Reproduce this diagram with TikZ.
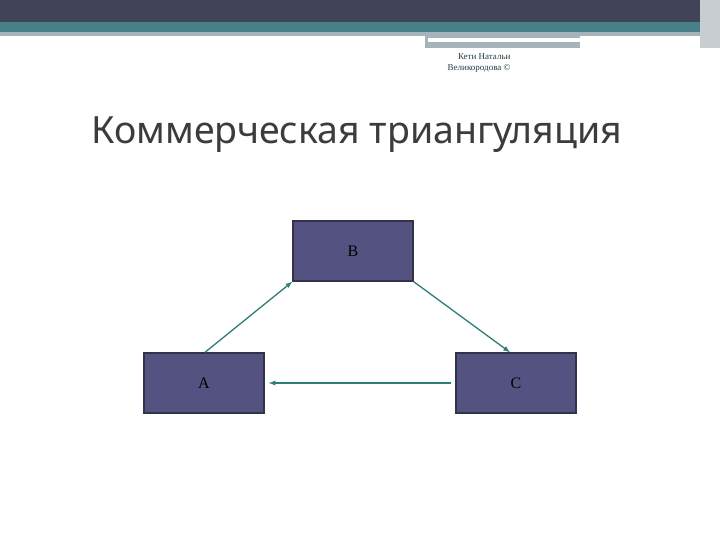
\documentclass[tikz,border=0pt]{standalone}
\usepackage{fontspec}
\setmainfont{Liberation Serif}
\newfontfamily\titlefont{Noto Sans}
\definecolor{band}{RGB}{65,68,87}
\definecolor{teal2}{RGB}{72,128,138}
\definecolor{greyb}{RGB}{165,180,185}
\definecolor{greyc}{RGB}{200,205,210}
\definecolor{boxfill}{RGB}{84,82,128}
\definecolor{boxedge}{RGB}{50,50,75}
\definecolor{arr}{RGB}{46,125,120}
\definecolor{auth}{RGB}{40,60,70}
\definecolor{ttl}{RGB}{60,60,60}
\begin{document}
\begin{tikzpicture}[x=1pt,y=-1pt,
  boxx/.style={draw=boxedge,line width=1.4pt,fill=boxfill,minimum width=120pt,minimum height=60pt,text=black,font=\fontsize{16}{18}\selectfont},
  conn/.style={draw=arr,line width=1.3pt,-latex}]
\useasboundingbox (0,0) rectangle (720,540);
\fill[white] (0,0) rectangle (720,540);
\fill[band] (0,0) rectangle (720,22);
\fill[teal2] (0,22) rectangle (720,32);
\fill[greyb] (0,32) rectangle (720,36);
\fill[greyb] (425,36) rectangle (580,48);
\fill[white] (428,38) rectangle (665,42);
\fill[greyc] (700,0) rectangle (720,48);
\node[anchor=north east,align=right,font=\fontsize{9}{11}\selectfont,text=auth] (au) at (514,50) {Кети Натальи\\Великородова ©};
\node[anchor=west,font=\titlefont\fontsize{37.5}{42}\selectfont,text=ttl] (title) at (88,135) {Коммерческая триангуляция};
\node[boxx] (B) at (353,251) {B};
\node[boxx] (A) at (204,383) {A};
\node[boxx] (C) at (516,383) {C};
\draw[conn] ([xshift=1pt]A.north) -- (B.south west);
\draw[conn] (B.south east) -- ([xshift=-6pt]C.north);
\draw[conn] ([xshift=-4pt]C.west) -- ([xshift=4pt]A.east);
\end{tikzpicture}
\end{document}
